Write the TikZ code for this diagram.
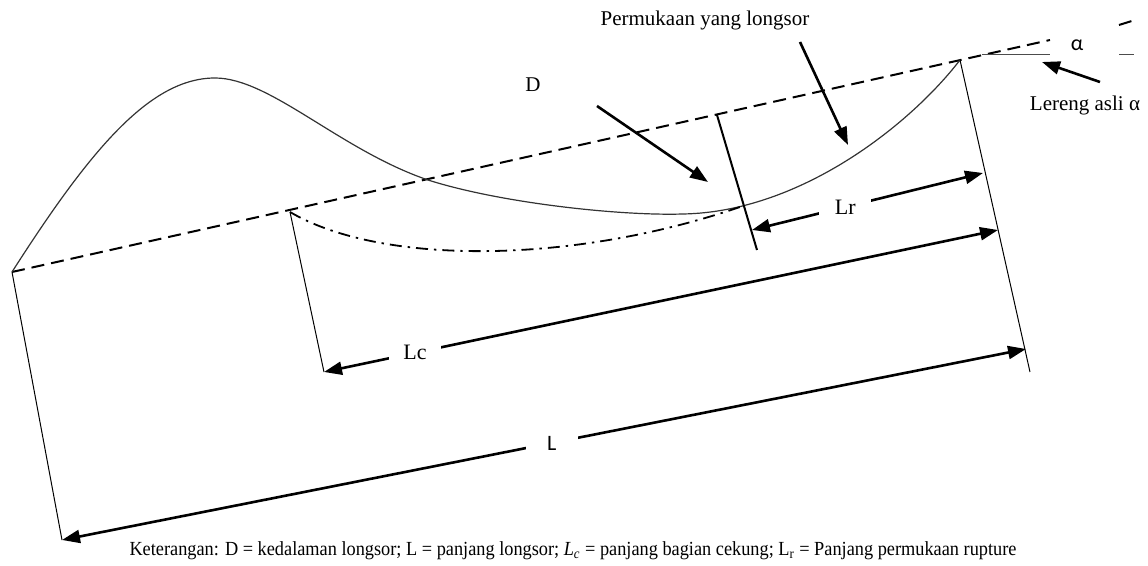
\documentclass[tikz,border=0pt]{standalone}
\usepackage{fontspec}
\setmainfont{Liberation Serif}
\newfontfamily\sansfont{Carlito}
\usepackage{tikz}
\usetikzlibrary{arrows.meta, calc}
\tikzset{
	textnode/.style={
			inner sep=1pt,
			font=\fontsize{10.5}{12}\selectfont
		},
	dimnode/.style={
			textnode,
			fill=white,
			minimum width=26pt,
			font=\fontsize{11}{13}\selectfont
		},
	sansnode/.style={
			textnode,
			font=\sansfont\fontsize{11}{13}\selectfont
		},
	thinline/.style={
			draw=black,
			line width=0.5pt
		},
	surfaceline/.style={
			draw=black!80,
			line width=0.6pt
		},
	dashline/.style={
			draw=black,
			line width=1pt,
			dash pattern=on 6.5pt off 3.5pt
		},
	dashdotline/.style={
			draw=black,
			line width=0.9pt,
			dash pattern=on 6pt off 3pt on 1.2pt off 3pt
		},
	pointarrow/.style={
			draw=black,
			line width=1.3pt,
			-{Triangle[length=9pt,width=6.5pt]}
		},
	dimarrow/.style={
			draw=black,
			line width=1.3pt,
			{Triangle[length=9pt,width=6.5pt]}-{Triangle[length=9pt,width=6.5pt]}
		}
}

\begin{document}
\begin{tikzpicture}[x=0.5pt, y=-0.5pt]
    \useasboundingbox (0,0) rectangle (1148,566);

    % slope points
    \coordinate (toe) at (12,272);
    \coordinate (peak) at (215,78);
    \coordinate (cross) at (428,180);
    \coordinate (bottom) at (683,214);
    \coordinate (crest) at (960,60);
    \coordinate (dashend) at (1050,40);
    \coordinate (cstart) at (290,212);
    \coordinate (join) at (740,207);

    % perpendicular ends
    \coordinate (toebot) at (62,540);
    \coordinate (cbot) at (324,372);
    \coordinate (crestbot) at (1030,372);
    \coordinate (dtop) at (717,115);
    \coordinate (dbot) at (757,250);

    % arrow ends
    \coordinate (lrleft) at (752,230);
    \coordinate (lrright) at (983,173);
    \coordinate (lcright) at (998,230);
    \coordinate (lright) at (1026,349);
    \coordinate (dtail) at (597,106);
    \coordinate (dhead) at (708,182);
    \coordinate (ptail) at (800,42);
    \coordinate (phead) at (848,145);
    \coordinate (atail) at (1100,82);
    \coordinate (ahead) at (1042,62);
    \coordinate (hleft) at (982,55);
    \coordinate (hright) at (1050,55);

    \node[textnode] (perm) at (705,20) {Permukaan yang longsor};
    \node[textnode] (dlabel) at (533,85) {D};
    \node[sansnode] (alpha) at (1077,45) {α};
    \node[textnode] (lereng) at (1085,105) {Lereng asli α};

    \draw[dashline] (toe) -- (dashend);
    \draw[dashline] (1119,25) -- (1135,20);
    \draw[thinline, draw=black!70] (hleft) -- (hright);
    \draw[thinline, draw=black!70] (1119,55) -- (1134,55);

    \draw[surfaceline] (toe) .. controls (90,150) and (150,78) .. (peak)
        .. controls (270,78) and (340,150) .. (cross)
        .. controls (500,203) and (620,216) .. (bottom)
        .. controls (800,212) and (910,125) .. (crest);
    \draw[dashdotline] (cstart) .. controls (380,265) and (570,265) .. (join);

    \draw[thinline] (toe) -- (toebot);
    \draw[thinline] (cstart) -- (cbot);
    \draw[thinline] (crest) -- (crestbot);
    \draw[thinline, line width=1pt] (dtop) -- (dbot);

    \draw[pointarrow] (dtail) -- (dhead);
    \draw[pointarrow] (ptail) -- (phead);
    \draw[pointarrow] (atail) -- (ahead);

    \draw[dimarrow] (lrleft) -- node[dimnode, pos=0.404] (lrlabel) {Lr} (lrright);
    \draw[dimarrow] (cbot) -- node[dimnode, pos=0.135] (lclabel) {Lc} (lcright);
    \draw[dimarrow] (toebot) -- node[dimnode, pos=0.508, font=\sansfont\fontsize{11}{13}\selectfont] (llabel) {L} (lright);

    \node[textnode, font=\fontsize{10}{12}\selectfont] (caption) at (573,551) {\scalebox{0.915}[1]{Keterangan: D = kedalaman longsor; L = panjang longsor; \textit{L}\textsubscript{\textit{c}} = panjang bagian cekung; L\textsubscript{r} = Panjang permukaan rupture}};
\end{tikzpicture}
\end{document}
